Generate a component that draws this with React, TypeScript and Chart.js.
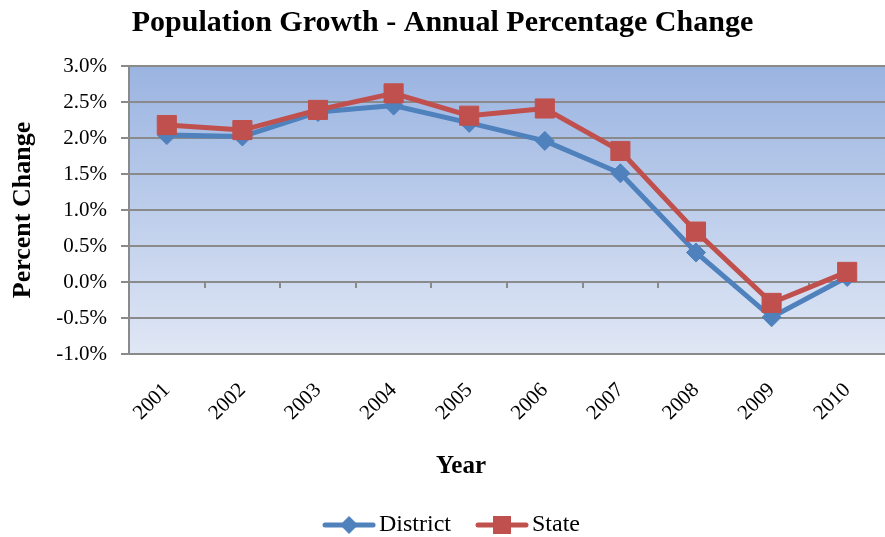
import React, { useEffect, useRef } from 'react';
import { Chart, registerables } from 'chart.js';

Chart.register(...registerables);

const years = ['2001', '2002', '2003', '2004', '2005', '2006', '2007', '2008', '2009', '2010'];
const districtValues = [2.04, 2.02, 2.36, 2.45, 2.21, 1.96, 1.51, 0.41, -0.49, 0.07];
const stateValues = [2.18, 2.11, 2.39, 2.62, 2.31, 2.41, 1.82, 0.70, -0.29, 0.14];
const seriesNames = ['District', 'State'];
const yMin = -1;
const yMax = 3;
const yStep = 0.5;
const chartTitle = 'Population Growth - Annual Percentage Change';
const yAxisTitle = 'Percent Change';
const xAxisTitle = 'Year';

const BLUE = '#4f81bd';
const RED = '#c0504d';
const GRID = '#8a8a8a';
const SERIF = '"Liberation Serif", "Times New Roman", serif';

function makeIcon(color: string, kind: 'diamond' | 'square'): HTMLCanvasElement {
  const c = document.createElement('canvas');
  c.width = 54;
  c.height = 22;
  const g = c.getContext('2d')!;
  g.strokeStyle = color;
  g.lineWidth = 5;
  g.lineCap = 'round';
  g.beginPath();
  g.moveTo(3, 11);
  g.lineTo(51, 11);
  g.stroke();
  g.fillStyle = color;
  g.beginPath();
  if (kind === 'diamond') {
    g.moveTo(27, 2);
    g.lineTo(36, 11);
    g.lineTo(27, 20);
    g.lineTo(18, 11);
    g.closePath();
  } else {
    g.rect(18, 2, 18, 18);
  }
  g.fill();
  return c;
}

const plotBackground = {
  id: 'plotBackground',
  beforeDraw(chart: any) {
    const { ctx, chartArea } = chart;
    if (!chartArea) return;
    const grad = ctx.createLinearGradient(0, chartArea.top, 0, chartArea.bottom);
    grad.addColorStop(0, '#9ab4e1');
    grad.addColorStop(1, '#e0e7f5');
    ctx.save();
    ctx.fillStyle = grad;
    ctx.fillRect(chartArea.left, chartArea.top, chartArea.right - chartArea.left, chartArea.bottom - chartArea.top);
    ctx.restore();
    // nudge the legend to sit where the reference has it
    if (chart.legend) {
      chart.legend.left += 13;
      chart.legend.right += 13;
    }
  },
};

const zeroAxisTicks = {
  id: 'zeroAxisTicks',
  beforeDatasetsDraw(chart: any) {
    const { ctx } = chart;
    const xs = chart.scales.x;
    const ys = chart.scales.y;
    const y0 = ys.getPixelForValue(0);
    const n = chart.data.labels.length;
    const xsList: number[] = [xs.left];
    for (let i = 1; i < n; i++) {
      xsList.push((xs.getPixelForValue(i - 1) + xs.getPixelForValue(i)) / 2);
    }
    ctx.save();
    ctx.strokeStyle = GRID;
    ctx.lineWidth = 2;
    ctx.beginPath();
    xsList.forEach((px) => {
      ctx.moveTo(Math.round(px), y0);
      ctx.lineTo(Math.round(px), y0 + 6);
    });
    ctx.stroke();
    ctx.restore();
  },
};

const xTitlePlugin = {
  id: 'xTitlePlugin',
  afterDraw(chart: any) {
    const { ctx } = chart;
    ctx.save();
    ctx.font = `bold 25px ${SERIF}`;
    ctx.fillStyle = '#000';
    ctx.textAlign = 'center';
    ctx.textBaseline = 'alphabetic';
    ctx.fillText(xAxisTitle, 461, 473);
    ctx.restore();
  },
};

export default function App() {
  const ref = useRef<HTMLCanvasElement | null>(null);

  useEffect(() => {
    document.body.style.margin = '0';
    document.documentElement.style.overflow = 'hidden';
    const canvas = ref.current;
    if (!canvas) return;
    const icons = [makeIcon(BLUE, 'diamond'), makeIcon(RED, 'square')];
    const chart = new Chart(canvas, {
      type: 'line',
      data: {
        labels: years,
        datasets: [
          {
            label: seriesNames[0],
            data: districtValues,
            borderColor: BLUE,
            backgroundColor: BLUE,
            borderWidth: 5,
            pointStyle: 'rectRot',
            pointRadius: 9.5,
            pointBackgroundColor: BLUE,
            pointBorderColor: BLUE,
            pointBorderWidth: 1,
            order: 1,
            tension: 0,
          },
          {
            label: seriesNames[1],
            data: stateValues,
            borderColor: RED,
            backgroundColor: RED,
            borderWidth: 5,
            pointStyle: 'rect',
            pointRadius: 13.5,
            pointBackgroundColor: RED,
            pointBorderColor: RED,
            pointBorderWidth: 1,
            order: 0,
            tension: 0,
          },
        ],
      },
      options: {
        responsive: false,
        animation: false,
        devicePixelRatio: 1,
        layout: { padding: 0, autoPadding: false },
        plugins: {
          title: {
            display: true,
            text: chartTitle,
            color: '#000',
            font: { family: SERIF, size: 30, weight: 'bold' },
            padding: { top: 5, bottom: 25 },
          },
          legend: {
            display: true,
            position: 'bottom',
            labels: {
              color: '#000',
              font: { family: SERIF, size: 24 },
              usePointStyle: true,
              pointStyleWidth: 36,
              padding: 33,
              generateLabels: (ch: any) =>
                ch.data.datasets.map((ds: any, i: number) => ({
                  text: ds.label,
                  pointStyle: icons[i],
                  fillStyle: ds.borderColor,
                  strokeStyle: ds.borderColor,
                  lineWidth: 0,
                  hidden: false,
                  datasetIndex: i,
                  fontColor: '#000',
                })),
            },
          },
          tooltip: { enabled: false },
        },
        scales: {
          x: {
            type: 'category',
            offset: true,
            grid: { display: false, drawTicks: false },
            border: { display: true, color: GRID, width: 2 },
            ticks: {
              color: '#000',
              font: { family: SERIF, size: 21 },
              minRotation: 45,
              maxRotation: 45,
              autoSkip: false,
              padding: 24,
            },
            afterFit: (scale: any) => {
              scale.height = 126;
              scale.paddingRight = 0;
              scale.paddingLeft = 0;
            },
          },
          y: {
            min: yMin,
            max: yMax,
            grid: { color: GRID, lineWidth: 2, drawTicks: true, tickLength: 8 },
            border: { display: true, color: GRID, width: 2 },
            ticks: {
              stepSize: yStep,
              color: '#000',
              font: { family: SERIF, size: 21 },
              padding: 14,
              callback: (v: any) => `${Number(v).toFixed(1)}%`,
            },
            title: {
              display: true,
              text: yAxisTitle,
              color: '#000',
              font: { family: SERIF, size: 26, weight: 'bold' },
              padding: { top: 8, bottom: 0 },
            },
            afterFit: (scale: any) => {
              scale.width = 129;
            },
          },
        },
      },
      plugins: [plotBackground, zeroAxisTicks, xTitlePlugin],
    } as any);
    return () => chart.destroy();
  }, []);

  return (
    <div style={{ position: 'fixed', left: 0, top: 0, width: 885, height: 547 }}>
      <canvas ref={ref} width={885} height={547} style={{ display: 'block', width: 885, height: 547 }} />
    </div>
  );
}
